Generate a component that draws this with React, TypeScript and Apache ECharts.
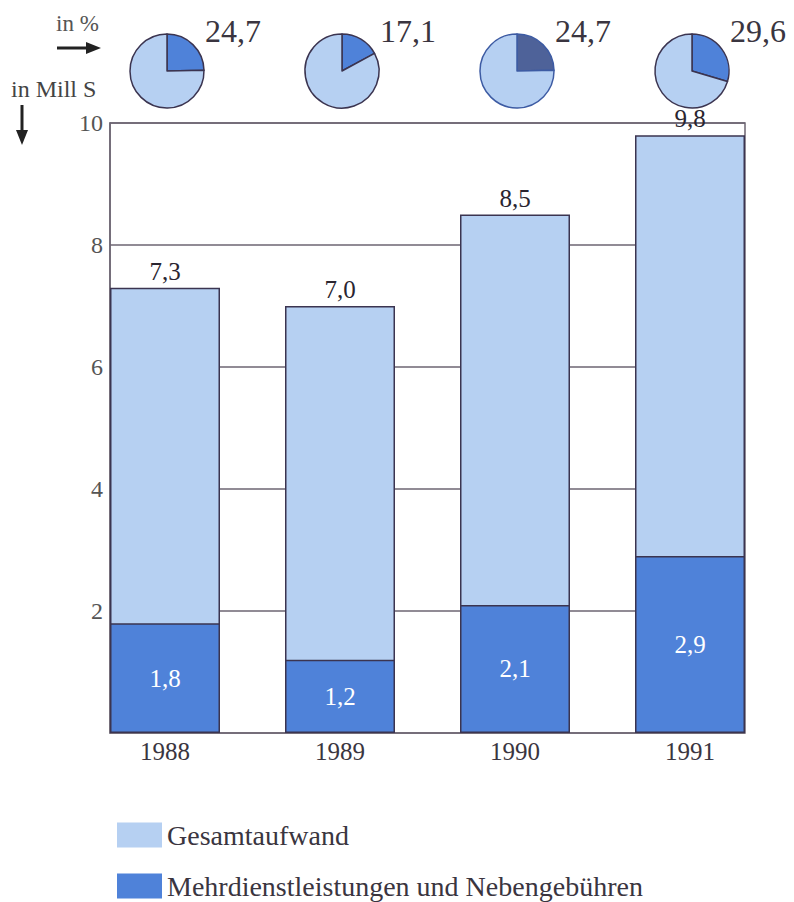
import React, { useEffect, useRef } from "react";
import * as echarts from "echarts";

// Jahre, Gesamtaufwand und Anteil Mehrdienstleistungen (in Mill S)
const years = ["1988", "1989", "1990", "1991"];
const gesamt = [7.3, 7.0, 8.5, 9.8];
const mehrdienst = [1.8, 1.2, 2.1, 2.9];
// Anteil in %
const anteilProzent = [24.7, 17.1, 24.7, 29.6];
const yTicks = [0, 2, 4, 6, 8, 10];
const legendNames = ["Gesamtaufwand", "Mehrdienstleistungen und Nebengebühren"];

const FONT = "'Liberation Serif', 'DejaVu Serif', serif";
const LIGHT = "#b6d0f2";
const DARK = "#4f82d9";
const EDGE = "#3b3450";
const LINE = "#6d6572";
const TEXT = "#3a3540";

const fmt = (v: number) => v.toFixed(1).replace(".", ",");

// pie centres above each bar column
const pieCenters = [167, 342, 517, 692];
const pieY = 71;

export default function App() {
  const ref = useRef<HTMLDivElement>(null);

  useEffect(() => {
    if (!ref.current) return;
    const chart = echarts.init(ref.current, undefined, { renderer: "svg" });

    const pies = anteilProzent.map((p, i) => {
      const special = i === 2;
      return {
        type: "pie",
        center: [pieCenters[i], pieY],
        radius: 37,
        startAngle: 90,
        clockwise: true,
        silent: true,
        label: { show: false },
        labelLine: { show: false },
        itemStyle: { borderColor: special ? "#3d5ba3" : EDGE, borderWidth: 1.5 },
        data: [
          { value: p, itemStyle: { color: special ? "#4e6299" : DARK } },
          { value: 100 - p, itemStyle: { color: LIGHT } },
        ],
      };
    });

    const pieLabels = anteilProzent.map((p, i) => ({
      type: "text",
      left: pieCenters[i] + 38,
      top: 15,
      style: { text: fmt(p), font: `32px ${FONT}`, fill: TEXT },
    }));

    const legendBase = {
      orient: "vertical",
      left: 117,
      itemWidth: 45,
      itemHeight: 25,
      icon: "rect",
      selectedMode: false,
      padding: 0,
      itemStyle: { borderWidth: 0 },
      textStyle: { fontFamily: FONT, fontSize: 28, lineHeight: 28, color: TEXT },
    };

    chart.setOption({
      animation: false,
      grid: [
        { left: 110, right: 49, top: 123, height: 610, show: true, borderColor: LINE, borderWidth: 1.5, backgroundColor: "transparent" },
        { left: 77.5, width: 700, top: 123, height: 610 },
      ],
      xAxis: [
        { gridIndex: 0, type: "value", min: 0, max: 1, show: false },
        {
          gridIndex: 1,
          type: "category",
          data: years,
          axisLine: { show: false },
          axisTick: { show: false },
          axisLabel: { fontFamily: FONT, fontSize: 25, color: TEXT, margin: 6 },
        },
      ],
      yAxis: [
        {
          gridIndex: 0,
          type: "value",
          min: yTicks[0],
          max: yTicks[yTicks.length - 1],
          interval: 2,
          axisLine: { show: true, lineStyle: { color: LINE, width: 1.5 } },
          axisTick: { show: false },
          splitLine: { lineStyle: { color: LINE, width: 1.5 } },
          axisLabel: {
            fontFamily: FONT,
            fontSize: 24,
            color: "#555",
            margin: 7,
            formatter: (v: number) => (v === 0 ? "" : String(v)),
          },
        },
        { gridIndex: 1, type: "value", min: 0, max: 10, show: false },
      ],
      legend: [
        { ...legendBase, top: 821, data: [legendNames[0]] },
        { ...legendBase, top: 872, data: [legendNames[1]] },
      ],
      series: [
        {
          name: legendNames[0],
          type: "bar",
          xAxisIndex: 1,
          yAxisIndex: 1,
          barWidth: 110,
          barGap: "-100%",
          data: gesamt,
          itemStyle: { color: LIGHT, borderColor: EDGE, borderWidth: 1.5 },
          label: {
            show: true,
            position: "top",
            distance: 4,
            fontFamily: FONT,
            fontSize: 25,
            color: "#2a2530",
            formatter: (p: any) => fmt(p.value),
          },
        },
        {
          name: legendNames[1],
          type: "bar",
          xAxisIndex: 1,
          yAxisIndex: 1,
          barWidth: 110,
          barGap: "-100%",
          z: 3,
          data: mehrdienst,
          itemStyle: { color: DARK, borderColor: EDGE, borderWidth: 1.5 },
          label: {
            show: true,
            position: "inside",
            fontFamily: FONT,
            fontSize: 25,
            color: "#ffffff",
            formatter: (p: any) => fmt(p.value),
          },
        },
        ...pies,
      ],
      graphic: [
        ...pieLabels,
        { type: "text", left: 56, top: 12, style: { text: "in %", font: `23px ${FONT}`, fill: "#555" } },
        { type: "line", shape: { x1: 57, y1: 48, x2: 90, y2: 48 }, style: { stroke: "#222", lineWidth: 3 } },
        { type: "polygon", shape: { points: [[86, 42], [101, 48], [86, 54]] }, style: { fill: "#222" } },
        { type: "text", left: 11, top: 77, style: { text: "in Mill S", font: `24px ${FONT}`, fill: "#444" } },
        { type: "line", shape: { x1: 22, y1: 105, x2: 22, y2: 134 }, style: { stroke: "#222", lineWidth: 3 } },
        { type: "polygon", shape: { points: [[16, 130], [22, 145], [28, 130]] }, style: { fill: "#222" } },
      ],
    });

    return () => chart.dispose();
  }, []);

  return (
    <div
      ref={ref}
      style={{ position: "fixed", left: 0, top: 0, width: 794, height: 902, background: "#fff" }}
    />
  );
}
